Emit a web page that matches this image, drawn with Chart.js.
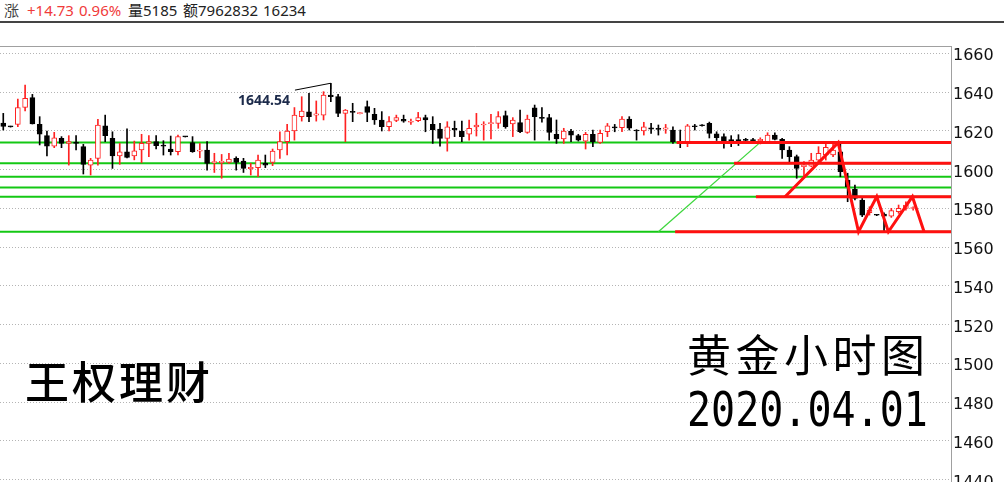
<!DOCTYPE html>
<html>
<head>
<meta charset="utf-8">
<script src="https://cdn.jsdelivr.net/npm/chart.js@4.4.1/dist/chart.umd.min.js"></script>
<style>
  html, body { margin: 0; padding: 0; background: #fff; }
  body { width: 1004px; height: 482px; overflow: hidden; position: relative; }
  .bar { position: absolute; top: 3px; font: 15px/15px "Noto Sans", "Noto Sans CJK SC", sans-serif; color: #222; white-space: nowrap; }
  .bar.up { color: #f03a3a; }
  #sep { position: absolute; left: 0; top: 21px; width: 1004px; height: 2px; background: #444; }
  #wrap { position: absolute; left: 0; top: 0; width: 1004px; height: 500px; }
  .note { position: absolute; white-space: nowrap; color: #000; }
</style>
</head>
<body>
<span class="bar" style="left:4px;color:#444">涨</span>
<span class="bar up" style="left:27px">+14.73</span>
<span class="bar up" style="left:79px">0.96%</span>
<span class="bar" style="left:128px">量5185</span>
<span class="bar" style="left:183px">额7962832</span>
<span class="bar" style="left:263px">16234</span>
<div id="sep"></div>
<div id="wrap"><canvas id="chart" width="1004" height="500"></canvas></div>
<div class="note" style="left:238px;top:93px;font:700 14px/14px 'Noto Sans';color:#1c2a4a">1644.54</div>
<div class="note" style="left:25px;top:358px;font:500 44px/44px 'Noto Sans CJK SC';letter-spacing:3px">王权理财</div>
<div class="note" style="left:687px;top:331px;font:400 44px/44px 'Noto Sans CJK SC';letter-spacing:4.5px">黄金小时图</div>
<div class="note" style="left:687px;top:385px;font:40px/40px 'DejaVu Sans Mono';transform:scaleY(1.2);transform-origin:0 0">2020.04.01</div>
<script>
// hourly candles, oldest first
const opens = [
  1624.0, 1622.2, 1623.3, 1632.1, 1637.1, 1623.3, 1617.5, 1612.1, 1616.1, 1613.5,
  1614.2, 1611.8, 1602.3, 1605.8, 1622.6, 1616.1, 1607.0, 1609.2, 1607.0, 1610.1,
  1613.5, 1614.4, 1612.5, 1610.6, 1609.2, 1617.0, 1613.9, 1609.5, 1610.1, 1603.6,
  1603.6, 1603.7, 1605.8, 1604.4, 1600.5, 1601.0, 1603.2, 1603.7, 1610.1, 1614.4,
  1619.9, 1627.3, 1629.8, 1628.1, 1628.1, 1638.5, 1637.6, 1629.0, 1629.9, 1628.9,
  1632.5, 1628.5, 1625.6, 1622.1, 1625.4, 1625.9, 1624.4, 1625.2, 1626.8, 1623.3,
  1620.9, 1616.1, 1621.3, 1619.9, 1618.2, 1622.0, 1623.0, 1623.7, 1623.8, 1627.8,
  1623.5, 1624.2, 1619.2, 1631.9, 1626.8, 1626.8, 1618.2, 1615.8, 1619.9, 1617.5,
  1614.7, 1618.2, 1614.0, 1619.5, 1621.8, 1621.6, 1626.1, 1620.4, 1619.9, 1621.6,
  1621.0, 1620.9, 1620.4, 1614.4, 1614.0, 1622.6, 1622.9, 1623.8, 1618.5, 1617.0,
  1615.5, 1615.5, 1615.3, 1615.3, 1614.9, 1614.4, 1617.8, 1615.6, 1610.1, 1606.7,
  1601.5, 1601.8, 1604.9, 1607.5, 1607.5, 1609.2, 1594.6, 1589.8, 1584.3, 1577.8,
  1576.6, 1577.0, 1576.0, 1578.3, 1580.0, 1579.9
];
const highs = [
  1629.0, 1622.4, 1636.4, 1643.6, 1638.8, 1627.3, 1619.9, 1619.2, 1617.0, 1617.5,
  1617.5, 1613.0, 1605.8, 1625.9, 1628.1, 1619.5, 1613.5, 1621.0, 1614.7, 1618.2,
  1617.5, 1617.5, 1614.9, 1617.3, 1617.8, 1617.1, 1617.0, 1613.5, 1614.4, 1608.4,
  1607.8, 1608.4, 1606.6, 1605.8, 1603.2, 1607.5, 1607.5, 1610.6, 1619.5, 1623.3,
  1632.0, 1637.6, 1639.3, 1635.4, 1640.2, 1644.54, 1638.8, 1631.0, 1634.2, 1629.4,
  1635.4, 1631.6, 1629.9, 1627.3, 1628.1, 1628.1, 1626.1, 1629.5, 1628.1, 1627.3,
  1623.8, 1624.7, 1625.0, 1625.0, 1625.6, 1629.0, 1624.7, 1628.5, 1629.9, 1630.2,
  1626.8, 1630.7, 1628.1, 1633.3, 1632.0, 1628.5, 1625.6, 1621.3, 1620.7, 1618.2,
  1619.2, 1620.4, 1620.4, 1623.8, 1623.3, 1627.3, 1627.3, 1620.6, 1624.4, 1623.8,
  1623.0, 1623.3, 1622.1, 1620.4, 1623.3, 1623.3, 1623.2, 1624.5, 1619.5, 1618.5,
  1617.5, 1618.0, 1616.1, 1616.1, 1616.4, 1619.0, 1619.0, 1616.1, 1611.8, 1607.5,
  1604.1, 1608.4, 1611.8, 1613.2, 1613.2, 1613.2, 1598.1, 1592.0, 1585.1, 1580.8,
  1576.8, 1577.7, 1580.0, 1581.7, 1583.4, 1580.8
];
const lows = [
  1620.4, 1621.9, 1622.1, 1630.2, 1623.5, 1612.7, 1607.0, 1611.3, 1611.3, 1602.3,
  1610.1, 1597.7, 1597.2, 1602.3, 1614.4, 1600.6, 1602.7, 1606.0, 1605.0, 1603.5,
  1606.6, 1610.6, 1607.5, 1607.5, 1607.5, 1616.8, 1608.9, 1606.1, 1599.7, 1598.5,
  1595.5, 1603.2, 1599.7, 1598.5, 1597.2, 1596.3, 1601.0, 1602.0, 1605.8, 1607.5,
  1615.2, 1625.0, 1624.7, 1625.0, 1625.6, 1635.0, 1627.3, 1614.4, 1624.7, 1628.7,
  1624.7, 1623.3, 1619.9, 1619.9, 1624.7, 1624.4, 1623.3, 1624.7, 1619.5, 1613.5,
  1612.1, 1609.5, 1617.0, 1614.4, 1615.2, 1617.3, 1615.2, 1615.8, 1621.3, 1621.3,
  1617.0, 1619.0, 1618.7, 1615.2, 1624.4, 1615.2, 1613.5, 1613.5, 1614.4, 1614.7,
  1610.6, 1611.8, 1613.5, 1617.0, 1619.5, 1619.5, 1620.4, 1615.2, 1617.8, 1618.7,
  1617.8, 1618.7, 1613.5, 1611.3, 1611.8, 1620.4, 1622.4, 1616.3, 1615.0, 1611.0,
  1611.8, 1612.4, 1613.9, 1613.5, 1613.2, 1613.5, 1615.3, 1605.8, 1603.6, 1595.5,
  1596.3, 1601.5, 1604.1, 1604.9, 1606.7, 1596.3, 1583.4, 1584.3, 1575.7, 1576.5,
  1576.2, 1567.9, 1575.3, 1577.4, 1579.1, 1579.1
];
const closes = [
  1622.3, 1622.0, 1632.0, 1636.8, 1623.5, 1618.2, 1612.1, 1616.4, 1613.5, 1614.4,
  1613.5, 1602.7, 1604.9, 1623.0, 1617.5, 1607.1, 1609.2, 1606.3, 1609.7, 1613.5,
  1614.4, 1612.3, 1612.1, 1609.2, 1617.0, 1616.9, 1609.2, 1610.1, 1603.2, 1604.1,
  1604.3, 1605.4, 1603.7, 1600.6, 1601.1, 1604.9, 1602.3, 1609.6, 1614.4, 1619.9,
  1628.1, 1630.2, 1627.3, 1628.8, 1638.5, 1637.6, 1629.0, 1630.7, 1629.5, 1629.2,
  1629.5, 1625.6, 1622.1, 1624.7, 1626.8, 1625.0, 1624.9, 1626.8, 1625.6, 1620.4,
  1616.1, 1622.1, 1620.4, 1617.0, 1621.3, 1623.0, 1623.3, 1624.2, 1627.3, 1622.1,
  1625.6, 1619.5, 1626.1, 1627.3, 1626.4, 1619.2, 1615.8, 1619.9, 1617.8, 1615.2,
  1618.2, 1614.4, 1618.7, 1622.6, 1621.5, 1626.1, 1621.3, 1619.9, 1622.1, 1620.9,
  1620.7, 1621.6, 1614.4, 1613.5, 1622.6, 1622.1, 1622.6, 1618.7, 1616.5, 1614.7,
  1614.0, 1614.2, 1615.1, 1614.9, 1615.6, 1617.8, 1615.6, 1610.1, 1606.7, 1600.6,
  1602.3, 1604.9, 1608.4, 1611.5, 1610.1, 1598.9, 1591.2, 1585.1, 1576.5, 1579.1,
  1576.4, 1576.0, 1578.8, 1580.0, 1581.7, 1580.2
];

const yTicks = [1440, 1460, 1480, 1500, 1520, 1540, 1560, 1580, 1600, 1620, 1640, 1660];

// hand-drawn analysis lines (x in candle index units)
const greenLevels = [1613.9, 1603.2, 1596.3, 1590.8, 1586.0, 1567.9];
const redLevels = [1613.9, 1603.2, 1586.0, 1567.9];
const redStarts = [92.5, 100.4, 103.4, 92.3];
const zigX = [107.4, 114.7, 117.5, 120.0, 121.6, 124.9, 126.5];
const zigY = [1586.0, 1613.9, 1567.9, 1586.0, 1567.9, 1586.0, 1567.9];
const guideX = [90.0, 103.95];
const guideY = [1567.9, 1613.9];
const peakX = [40.07, 44.97, 44.97];
const peakY = [1641.0, 1644.54, 1641.5];

const xMin = -0.45, xMax = 130.2;
const yMin = 1429.45, yMax = 1663.77;

const RED = '#ff2222';
const isUp = i => closes[i] > opens[i];

function seg(xs, ys, color, width, order) {
    return {
        type: 'line',
        data: xs.map((x, k) => ({ x: x, y: ys[k] })),
        borderColor: color,
        borderWidth: width,
        pointRadius: 0,
        fill: false,
        tension: 0,
        order: order
    };
}

const datasets = [];
greenLevels.forEach(v => datasets.push(seg([xMin, xMax], [v, v], '#14c814', 2, 10)));
datasets.push(seg(guideX, guideY, '#3ed63e', 1.3, 9));
datasets.push({
    data: lows.map((l, i) => ({ x: i, y: [l, highs[i]] })),
    backgroundColor: ctx => isUp(ctx.dataIndex) ? RED : '#000',
    borderWidth: 0,
    barThickness: 1,
    grouped: false,
    order: 4
});
datasets.push({
    data: opens.map((o, i) => ({ x: i, y: [o, closes[i]] })),
    backgroundColor: ctx => isUp(ctx.dataIndex) ? '#fff' : '#000',
    borderColor: ctx => isUp(ctx.dataIndex) ? RED : '#000',
    borderWidth: 1,
    borderSkipped: false,
    barThickness: 5,
    minBarLength: 1,
    grouped: false,
    order: 3
});
redLevels.forEach((v, k) => datasets.push(seg([redStarts[k], xMax], [v, v], '#ff1010', 3, 1)));
datasets.push(seg(zigX, zigY, '#ff1010', 3, 1));
datasets.push(seg(peakX, peakY, '#000', 1, 1));

const framePlugin = {
    id: 'frame',
    afterDraw(chart) {
        const { ctx, chartArea: a } = chart;
        ctx.save();
        ctx.strokeStyle = '#a0a0a0';
        ctx.lineWidth = 1;
        ctx.beginPath();
        ctx.moveTo(a.left, a.top + 0.5);
        ctx.lineTo(a.right + 0.5, a.top + 0.5);
        ctx.stroke();
        ctx.restore();
    }
};

new Chart(document.getElementById('chart'), {
    type: 'bar',
    data: { datasets: datasets },
    options: {
        responsive: false,
        animation: false,
        devicePixelRatio: 1,
        layout: { padding: { top: 46, left: 0, right: 0, bottom: 0 } },
        plugins: { legend: { display: false }, tooltip: { enabled: false } },
        scales: {
            x: { type: 'linear', display: false, min: xMin, max: xMax, offset: false },
            y: {
                position: 'right',
                min: yMin,
                max: yMax,
                afterBuildTicks: s => { s.ticks = yTicks.map(v => ({ value: v })); },
                afterFit: s => { s.width = 53; s.paddingTop = 0; s.paddingBottom = 0; },
                grid: { color: '#b4b4b4', drawTicks: false },
                border: { color: '#a0a0a0', dash: [1, 2] },
                ticks: {
                    padding: 2,
                    labelOffset: 3,
                    color: '#111',
                    font: { family: 'DejaVu Sans', size: 16 },
                    callback: v => v
                }
            }
        }
    },
    plugins: [framePlugin]
});
</script>
</body>
</html>
